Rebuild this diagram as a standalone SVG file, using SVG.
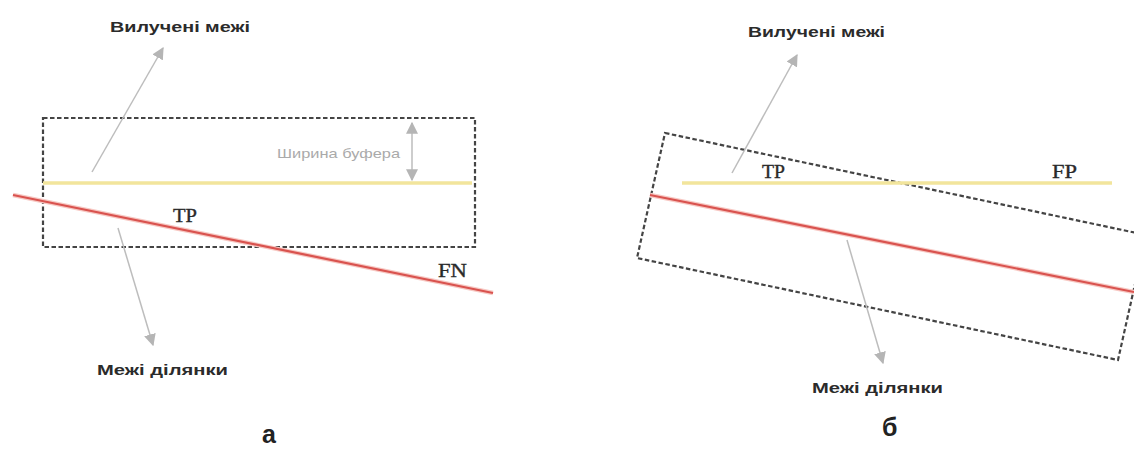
<svg xmlns="http://www.w3.org/2000/svg" width="1134" height="450" viewBox="0 0 1134 450">
<defs>
<style>
.lbl{font-family:"Liberation Sans",Arial,sans-serif;font-weight:bold;font-size:14.5px;fill:#2b2b2b}
.cap{font-family:"Liberation Sans",Arial,sans-serif;font-weight:bold;font-size:25px;fill:#222}
.tp{font-family:"Liberation Serif","Times New Roman",serif;font-size:19px;fill:#2a2a2a;stroke:#2a2a2a;stroke-width:0.35}
.buf{font-family:"Liberation Sans",Arial,sans-serif;font-size:13px;fill:#aaa}
.box{fill:none;stroke:#444;stroke-width:2.2;stroke-dasharray:4.5 2.5}
.gt{stroke:#f2e59c;stroke-width:3.5;fill:none}
.pr{stroke:#d9534f;stroke-width:2.2;fill:none}
.halo{stroke:#f7c9c4;stroke-width:4.5;fill:none}
.arr{stroke:#bdbdbd;stroke-width:1.5;fill:none}
</style>
<marker id="ah" viewBox="0 0 10 10" refX="9" refY="5" markerWidth="12" markerHeight="12" markerUnits="userSpaceOnUse" orient="auto-start-reverse">
<path d="M0,0 L10,5 L0,10 z" fill="#b5b5b5"/>
</marker>
</defs>
<rect width="1134" height="450" fill="#fff"/>
<g id="panel-a">
<g id="buffer-a"><rect class="box" x="43" y="118" width="432" height="129"/></g>
<g id="ref-line-a"><line class="gt" x1="43" y1="183" x2="472" y2="183"/></g>
<g id="pred-line-a"><line class="halo" x1="13" y1="195" x2="493" y2="293"/><line class="pr" x1="13" y1="195" x2="493" y2="293"/></g>
<g id="label-extracted-a"><text class="lbl" x="110" y="32" textLength="140" lengthAdjust="spacingAndGlyphs">Вилучені межі</text></g>
<g id="label-parcel-a"><text class="lbl" x="97" y="375" textLength="131" lengthAdjust="spacingAndGlyphs">Межі ділянки</text></g>
<g id="label-buffer"><text class="buf" x="277" y="158" textLength="123" lengthAdjust="spacingAndGlyphs">Ширина буфера</text></g>
<g id="tp-a"><text class="tp" x="173" y="222" textLength="24" lengthAdjust="spacingAndGlyphs">TP</text></g>
<g id="fn-a"><text class="tp" x="438" y="277" textLength="29" lengthAdjust="spacingAndGlyphs">FN</text></g>
<g id="cap-a"><text class="cap" x="262" y="443">а</text></g>
</g>
<g id="panel-b">
<g id="buffer-b"><polygon class="box" points="665,133 1146,235 1118,360 637,258"/></g>
<g id="ref-line-b"><line class="gt" x1="682" y1="183" x2="1112" y2="183"/></g>
<g id="pred-line-b"><line class="halo" x1="650" y1="195" x2="1134" y2="292"/><line class="pr" x1="650" y1="195" x2="1134" y2="292"/></g>
<g id="label-extracted-b"><text class="lbl" x="748" y="37" textLength="137" lengthAdjust="spacingAndGlyphs">Вилучені межі</text></g>
<g id="label-parcel-b"><text class="lbl" x="812" y="393" textLength="131" lengthAdjust="spacingAndGlyphs">Межі ділянки</text></g>
<g id="tp-b"><text class="tp" x="762" y="178" textLength="23" lengthAdjust="spacingAndGlyphs">TP</text></g>
<g id="fp-b"><text class="tp" x="1052" y="178" textLength="25" lengthAdjust="spacingAndGlyphs">FP</text></g>
<g id="cap-b"><text class="cap" x="882" y="436">б</text></g>
</g>
<g id="connectors">
<line class="arr" x1="92" y1="172" x2="163" y2="48" marker-end="url(#ah)"/>
<line class="arr" x1="118" y1="228" x2="153" y2="345" marker-end="url(#ah)"/>
<line class="arr" x1="412" y1="123" x2="412" y2="180" marker-start="url(#ah)" marker-end="url(#ah)"/>
<line class="arr" x1="732" y1="173" x2="797" y2="55" marker-end="url(#ah)"/>
<line class="arr" x1="847" y1="240" x2="883" y2="363" marker-end="url(#ah)"/>
</g>
</svg>
